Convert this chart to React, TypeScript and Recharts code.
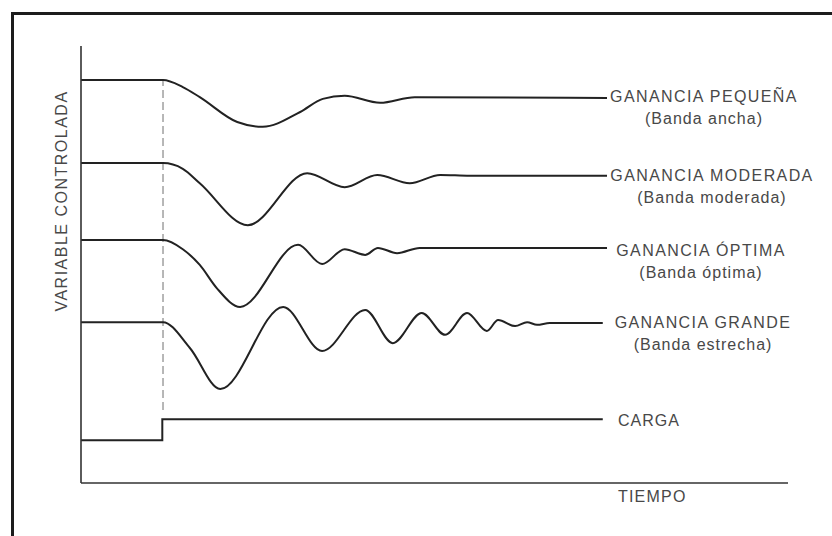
import React from "react";
import { LineChart, Line, XAxis, YAxis, ReferenceLine } from "recharts";

// tiempo (0-100) y variable controlada (0-100)
const pequena = [
  { t: 0, v: 92.2 }, { t: 11.6, v: 92.2 }, { t: 14.4, v: 90.6 }, { t: 16.8, v: 88.3 },
  { t: 22.1, v: 82.6 }, { t: 25.7, v: 81.5 }, { t: 31.0, v: 84.9 }, { t: 34.2, v: 87.9 },
  { t: 37.3, v: 88.6 }, { t: 42.3, v: 87.0 }, { t: 47.2, v: 88.3 }, { t: 74.4, v: 88.1 },
];

const moderada = [
  { t: 0, v: 73.2 }, { t: 11.6, v: 73.2 }, { t: 14.4, v: 71.9 }, { t: 16.8, v: 68.6 },
  { t: 23.6, v: 59.0 }, { t: 32.0, v: 70.9 },
  { t: 37.3, v: 67.7 }, { t: 41.9, v: 70.5 }, { t: 46.5, v: 68.6 }, { t: 50.8, v: 70.5 },
  { t: 55.0, v: 70.3 }, { t: 74.4, v: 70.3 },
];

const optima = [
  { t: 0, v: 55.6 }, { t: 11.6, v: 55.6 }, { t: 14.4, v: 53.5 }, { t: 16.8, v: 49.9 },
  { t: 19.2, v: 44.6 }, { t: 22.5, v: 40.3 }, { t: 30.7, v: 54.5 },
  { t: 34.1, v: 50.1 }, { t: 37.3, v: 53.5 }, { t: 40.2, v: 52.2 }, { t: 42.0, v: 53.8 },
  { t: 44.7, v: 52.6 }, { t: 47.9, v: 53.8 }, { t: 74.4, v: 53.8 },
];

const grande = [
  { t: 0, v: 36.8 }, { t: 11.6, v: 36.8 }, { t: 15.4, v: 30.9 }, { t: 19.7, v: 21.5 },
  { t: 28.6, v: 40.3 }, { t: 34.1, v: 30.2 }, { t: 40.2, v: 39.6 }, { t: 44.1, v: 32.0 },
  { t: 48.2, v: 38.9 }, { t: 51.5, v: 33.9 }, { t: 54.6, v: 38.9 }, { t: 57.4, v: 34.8 },
  { t: 59.0, v: 37.3 }, { t: 61.4, v: 35.9 }, { t: 63.1, v: 36.8 }, { t: 64.5, v: 36.2 },
  { t: 66.3, v: 36.6 }, { t: 73.8, v: 36.6 },
];

const carga = [
  { t: 0, v: 9.8 }, { t: 11.5, v: 14.6 }, { t: 73.8, v: 14.6 },
];

const tPerturbacion = 11.6;
const dashRange = [16.7, 92.2];

const curveLabels = [
  { lines: ["GANANCIA PEQUEÑA", "(Banda ancha)"], cx: 704, cy: 97 },
  { lines: ["GANANCIA MODERADA", "(Banda moderada)"], cx: 712, cy: 176 },
  { lines: ["GANANCIA ÓPTIMA", "(Banda óptima)"], cx: 701, cy: 251 },
  { lines: ["GANANCIA GRANDE", "(Banda estrecha)"], cx: 703, cy: 323 },
];

const ink = "#222";
const textColor = "#484848";

const textStyle: React.CSSProperties = {
  position: "absolute",
  width: 300,
  textAlign: "center",
  fontFamily: "'Liberation Sans', Arial, sans-serif",
  fontSize: 16,
  lineHeight: "16px",
  color: textColor,
  whiteSpace: "nowrap",
};

export default function App() {
  return (
    <div style={{ position: "absolute", top: 0, left: 0, width: 832, height: 536, background: "#fff", overflow: "hidden" }}>
      <div
        style={{
          position: "absolute", left: 11, top: 12, width: 900, height: 600,
          borderTop: "3px solid #1c1c1c", borderLeft: "3px solid #1c1c1c",
        }}
      />
      <div style={{ position: "absolute", left: 0, top: 0 }}>
        <LineChart width={832} height={536} margin={{ top: 46, right: 44, bottom: 43, left: 71 }}>
          <XAxis
            type="number"
            dataKey="t"
            domain={[0, 100]}
            tick={false}
            tickLine={false}
            height={10}
            axisLine={{ stroke: "#333", strokeWidth: 1.6 }}
          />
          <YAxis
            type="number"
            dataKey="v"
            domain={[0, 100]}
            tick={false}
            tickLine={false}
            width={10}
            axisLine={{ stroke: "#333", strokeWidth: 1.6 }}
          />
          <ReferenceLine
            segment={[{ x: tPerturbacion, y: dashRange[0] }, { x: tPerturbacion, y: dashRange[1] }]}
            stroke="#888"
            strokeWidth={1.2}
            strokeDasharray="8 4"
          />
          <Line data={pequena} dataKey="v" type="monotone" stroke={ink} strokeWidth={2} dot={false} isAnimationActive={false} />
          <Line data={moderada} dataKey="v" type="monotone" stroke={ink} strokeWidth={2} dot={false} isAnimationActive={false} />
          <Line data={optima} dataKey="v" type="monotone" stroke={ink} strokeWidth={2} dot={false} isAnimationActive={false} />
          <Line data={grande} dataKey="v" type="monotone" stroke={ink} strokeWidth={2} dot={false} isAnimationActive={false} />
          <Line data={carga} dataKey="v" type="stepAfter" stroke={ink} strokeWidth={2} dot={false} isAnimationActive={false} />
        </LineChart>
      </div>
      {curveLabels.map((l) => (
        <React.Fragment key={l.lines[0]}>
          <div style={{ ...textStyle, left: l.cx - 150, top: l.cy - 8, letterSpacing: 1.4 }}>{l.lines[0]}</div>
          <div style={{ ...textStyle, left: l.cx - 150, top: l.cy + 14, letterSpacing: 1 }}>{l.lines[1]}</div>
        </React.Fragment>
      ))}
      <div style={{ ...textStyle, left: 618, top: 421 - 8, width: 100, textAlign: "left", letterSpacing: 1 }}>CARGA</div>
      <div style={{ ...textStyle, left: 618, top: 497 - 8, width: 100, textAlign: "left", letterSpacing: 1.2 }}>TIEMPO</div>
      <div
        style={{
          ...textStyle,
          left: 62 - 150,
          top: 201 - 8,
          letterSpacing: 1.5,
          transform: "rotate(-90deg)",
        }}
      >
        VARIABLE CONTROLADA
      </div>
    </div>
  );
}
